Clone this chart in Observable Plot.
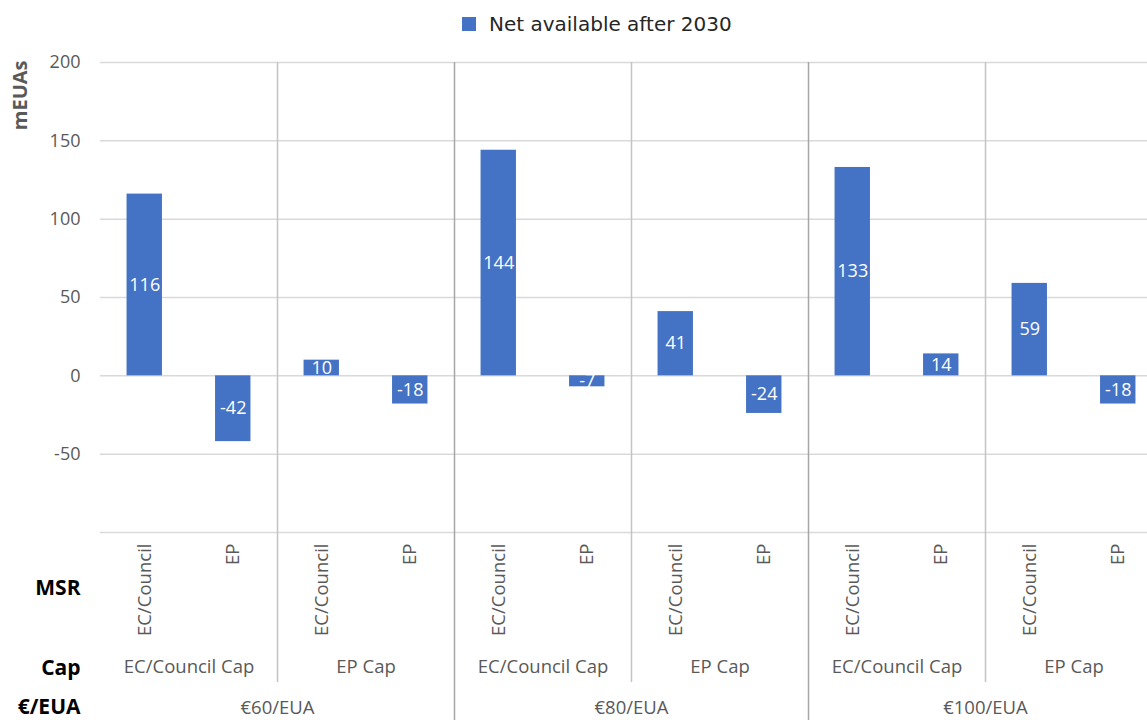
<!DOCTYPE html>
<html><head><meta charset="utf-8">
<script src="https://cdn.jsdelivr.net/npm/d3@7"></script>
<script src="https://cdn.jsdelivr.net/npm/@observablehq/plot@0.6"></script>
<style>
body{margin:0;background:#fff;font-family:"Open Sans",sans-serif;overflow:hidden;}
#legend{position:relative;height:45px;}
#legend .item{position:absolute;left:462px;top:10px;height:28px;font-family:"DejaVu Sans",sans-serif;font-size:20px;color:#262626;display:flex;align-items:center;white-space:nowrap;}
#legend .sw{display:inline-block;width:14px;height:14px;background:#4472c4;margin-right:13px;}
</style></head><body>
<div id="legend"><div class="item"><span class="sw"></span>Net available after 2030</div></div>
<div id="chart"></div>
<script>
const prices = ["€60/EUA", "€80/EUA", "€100/EUA"];
const caps = ["EC/Council Cap", "EP Cap"];
const msrs = ["EC/Council", "EP"];
const values = [116, -42, 10, -18, 144, -7, 41, -24, 133, 14, 59, -18];
const yTicks = [-100, -50, 0, 50, 100, 150, 200];
const rowLabels = ["MSR", "Cap", "€/EUA"];
const yLabel = "mEUAs";

const data = [];
const capGroups = [];
const priceGroups = [];
prices.forEach((p, pi) => {
  priceGroups.push({label: p, pos: pi * 4 + 1.5});
  caps.forEach((c, ci) => {
    capGroups.push({label: c, pos: pi * 4 + ci * 2 + 0.5});
    msrs.forEach((m, mi) => {
      const i = pi * 4 + ci * 2 + mi;
      data.push({i, price: p, cap: c, msr: m, value: values[i]});
    });
  });
});
const minorSeps = prices.map((p, pi) => pi * 4 + 1.5);
const majorSeps = prices.slice(1).map((p, pi) => pi * 4 + 3.5);

const labelFont = 18.5;
const rowFont = 21;
const chart = Plot.plot({
  width: 1147,
  height: 675,
  marginTop: 17,
  marginBottom: 188,
  marginLeft: 100,
  marginRight: 0,
  style: {fontFamily: '"Open Sans", sans-serif', background: "#fff", overflow: "visible"},
  x: {type: "linear", domain: [-0.5, 11.5], range: [100, 1162], axis: null},
  y: {domain: [-100, 200], axis: null},
  marks: [
    Plot.gridY(yTicks, {stroke: "#d9d9d9", strokeOpacity: 1, strokeWidth: 1.5}),
    Plot.ruleX(minorSeps, {stroke: "#c4c4c4", strokeWidth: 1.5, insetBottom: -150}),
    Plot.ruleX(majorSeps, {stroke: "#a6a6a6", strokeWidth: 1.5, insetBottom: -190}),
    Plot.axisY(yTicks, {label: null, tickSize: 0, tickPadding: 20, fontSize: 18, fill: "#595959",
      tickFormat: d => d === -100 ? "" : String(d)}),
    Plot.rectY(data, {x1: d => d.i - 0.2, x2: d => d.i + 0.2, y: "value", fill: "#4472c4"}),
    Plot.text(data, {x: "i", y: d => d.value / 2, text: d => String(d.value), fill: "white", fontSize: 18}),
    Plot.text(data, {x: "i", text: "msr", frameAnchor: "bottom", dy: 11, rotate: -90, textAnchor: "end", lineAnchor: "middle", fontSize: labelFont, fill: "#595959"}),
    Plot.text(capGroups, {x: "pos", text: "label", frameAnchor: "bottom", dy: 140, fontSize: labelFont, fill: "#595959"}),
    Plot.text(priceGroups, {x: "pos", text: "label", frameAnchor: "bottom", dy: 181, fontSize: labelFont, fill: "#595959"}),
    Plot.text([rowLabels[0]], {text: d => d, frameAnchor: "bottom-left", dx: -20, dy: 62, textAnchor: "end", fontSize: rowFont, fontWeight: "bold", fill: "#000"}),
    Plot.text([rowLabels[1]], {text: d => d, frameAnchor: "bottom-left", dx: -20, dy: 142, textAnchor: "end", fontSize: rowFont, fontWeight: "bold", fill: "#000"}),
    Plot.text([rowLabels[2]], {text: d => d, frameAnchor: "bottom-left", dx: -20, dy: 181, textAnchor: "end", fontSize: rowFont, fontWeight: "bold", fill: "#000"}),
    Plot.text([yLabel], {text: d => d, frameAnchor: "top-left", dx: -80, dy: -2, rotate: -90, textAnchor: "end", lineAnchor: "middle", fontSize: 20, fontWeight: "bold", fill: "#595959"})
  ]
});
document.getElementById("chart").appendChild(chart);
</script>
</body></html>
